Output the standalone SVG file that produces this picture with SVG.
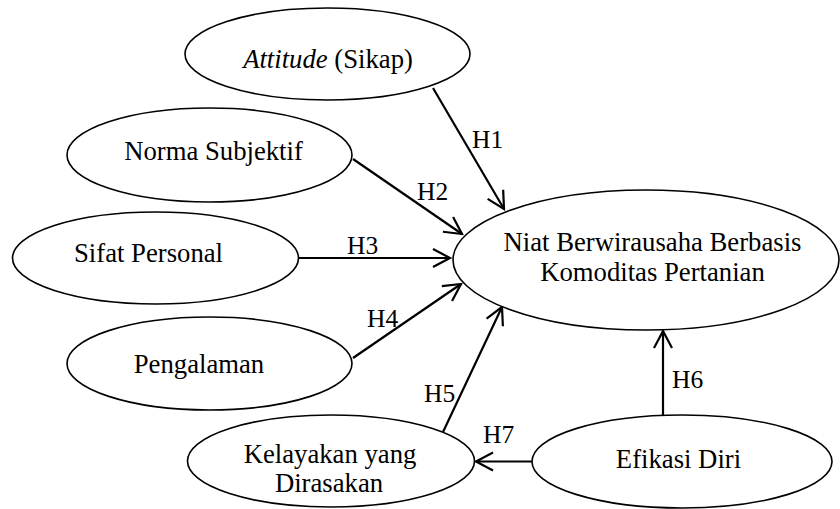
<svg xmlns="http://www.w3.org/2000/svg" width="840" height="509" viewBox="0 0 840 509">
<defs>
<style>
.node ellipse{fill:#fff;stroke:#000;stroke-width:1.6}
.t{font-family:"Liberation Serif","Times New Roman",serif;font-size:26.7px;fill:#000;text-anchor:middle}
.lbl{font-family:"Liberation Serif","Times New Roman",serif;font-size:25.5px;fill:#000}
.edge{stroke:#000;stroke-width:2.2;fill:none;marker-end:url(#arr)}
</style>
<marker id="arr" markerUnits="userSpaceOnUse" markerWidth="40" markerHeight="40" viewBox="-20 -20 40 40" refX="0" refY="0" orient="auto">
<path d="M-17,-9 L0,0 L-17,9" fill="none" stroke="#000" stroke-width="2.2" stroke-linejoin="miter"/>
</marker>
</defs>
<rect width="840" height="509" fill="#fff"/>
<g id="connectors">
<line class="edge" x1="433" y1="88" x2="504" y2="209"/>
<line class="edge" x1="353" y1="159" x2="462" y2="234"/>
<line class="edge" x1="298" y1="258" x2="450" y2="258"/>
<line class="edge" x1="353" y1="358" x2="461" y2="284"/>
<line class="edge" x1="443" y1="432" x2="502" y2="307"/>
<line class="edge" x1="663" y1="415" x2="663" y2="331"/>
<line class="edge" x1="532" y1="461.5" x2="476" y2="461.5"/>
</g>
<g id="labels">
<text class="lbl" x="472" y="148">H1</text>
<text class="lbl" x="417" y="200">H2</text>
<text class="lbl" x="347" y="254">H3</text>
<text class="lbl" x="367" y="327">H4</text>
<text class="lbl" x="424" y="402">H5</text>
<text class="lbl" x="672" y="388">H6</text>
<text class="lbl" x="483" y="443">H7</text>
</g>
<g id="attitude" class="node">
<ellipse cx="327.5" cy="54" rx="142.5" ry="46"/>
<text class="t" x="328" y="68"><tspan font-style="italic">Attitude</tspan> (Sikap)</text>
</g>
<g id="norma" class="node">
<ellipse cx="209.5" cy="155" rx="142.5" ry="47"/>
<text class="t" x="213.5" y="160">Norma Subjektif</text>
</g>
<g id="sifat" class="node">
<ellipse cx="155.5" cy="258" rx="143" ry="46"/>
<text class="t" x="148.5" y="262">Sifat Personal</text>
</g>
<g id="pengalaman" class="node">
<ellipse cx="209.5" cy="363.5" rx="142.5" ry="46.5"/>
<text class="t" x="199" y="373">Pengalaman</text>
</g>
<g id="kelayakan" class="node">
<ellipse cx="331" cy="461" rx="143.5" ry="46"/>
<text class="t" x="330" y="463">Kelayakan yang</text>
<text class="t" x="329" y="492">Dirasakan</text>
</g>
<g id="niat" class="node">
<ellipse cx="646" cy="260" rx="193" ry="70"/>
<text class="t" x="652.5" y="251">Niat Berwirausaha Berbasis</text>
<text class="t" x="652.5" y="281">Komoditas Pertanian</text>
</g>
<g id="efikasi" class="node">
<ellipse cx="682" cy="461.5" rx="150" ry="46.5"/>
<text class="t" x="678.5" y="468">Efikasi Diri</text>
</g>
</svg>
